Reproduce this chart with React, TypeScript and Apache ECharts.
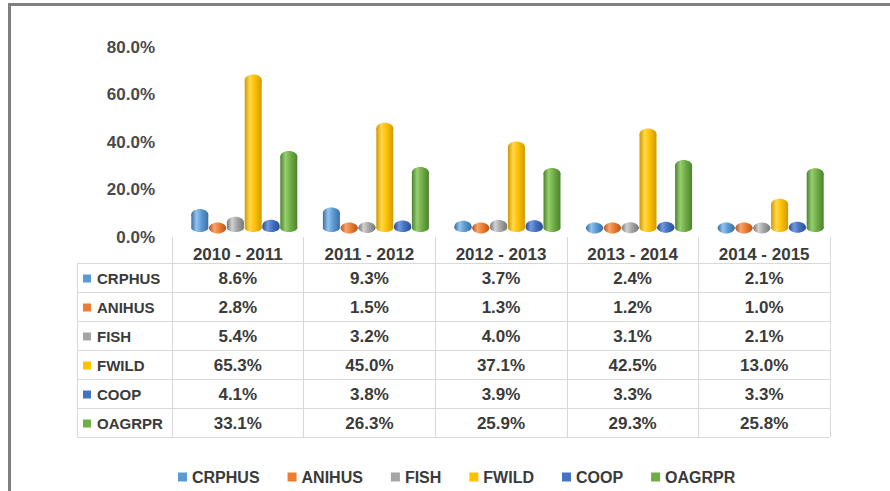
import React, { useEffect, useRef } from "react";
import * as echarts from "echarts";

const categories = ["2010 - 2011", "2011 - 2012", "2012 - 2013", "2013 - 2014", "2014 - 2015"];
const seriesNames = ["CRPHUS", "ANIHUS", "FISH", "FWILD", "COOP", "OAGRPR"];
const CRPHUS = [8.6, 9.3, 3.7, 2.4, 2.1];
const ANIHUS = [2.8, 1.5, 1.3, 1.2, 1.0];
const FISH = [5.4, 3.2, 4.0, 3.1, 2.1];
const FWILD = [65.3, 45.0, 37.1, 42.5, 13.0];
const COOP = [4.1, 3.8, 3.9, 3.3, 3.3];
const OAGRPR = [33.1, 26.3, 25.9, 29.3, 25.8];
const seriesValues = [CRPHUS, ANIHUS, FISH, FWILD, COOP, OAGRPR];
const yMin = 0;
const yMax = 80;
const yInterval = 20;

// styling
const palette = [
  { base: "#5B9BD5", light: "#93c3ee", dark: "#3b6fa0" },
  { base: "#ED7D31", light: "#f7a56e", dark: "#b5561b" },
  { base: "#A5A5A5", light: "#d2d2d2", dark: "#787878" },
  { base: "#FFC000", light: "#ffd84a", dark: "#cf9a00" },
  { base: "#4472C4", light: "#7199df", dark: "#2b4f90" },
  { base: "#70AD47", light: "#97cf6f", dark: "#4c832d" },
];
const FONT = "'Liberation Sans', Arial, sans-serif";
const TEXT = "#3a3a3a";
const GRID_LEFT = 172;
const GRID_RIGHT = 60;
const GRID_TOP = 47;
const GRID_BOTTOM = 254;
const SLOT = 17.8;
const BAR_W = 17;
const GROUP_SHIFT = 6.5;
const TABLE_TOP = 263;
const ROW_H = 29;
const TABLE_LEFT = 77;
const TABLE_RIGHT = 830;
const LINE = "#d9d9d9";

function grad(p: { base: string; light: string; dark: string }) {
  return new echarts.graphic.LinearGradient(0, 0, 1, 0, [
    { offset: 0, color: p.dark },
    { offset: 0.3, color: p.light },
    { offset: 0.6, color: p.base },
    { offset: 1, color: p.dark },
  ]);
}

export default function App() {
  const ref = useRef<HTMLDivElement>(null);
  useEffect(() => {
    if (!ref.current) return;
    const chart = echarts.init(ref.current, undefined, { renderer: "svg" });
    const option: any = {
      animation: false,
      backgroundColor: "#ffffff",
      grid: { left: GRID_LEFT, right: GRID_RIGHT, top: GRID_TOP, bottom: GRID_BOTTOM },
      legend: {
        data: seriesNames,
        left: 173,
        top: 464,
        icon: "rect",
        itemWidth: 9,
        itemHeight: 9,
        itemGap: 28,
        textStyle: { fontFamily: FONT, fontSize: 16, fontWeight: "bold", color: TEXT },
      },
      xAxis: {
        type: "category",
        data: categories,
        axisLine: { show: false },
        axisTick: { show: true, length: 200, lineStyle: { color: LINE, width: 1 } },
        axisLabel: { margin: 9, fontFamily: FONT, fontSize: 17, fontWeight: "bold", color: TEXT },
        splitLine: { show: false },
      },
      yAxis: {
        type: "value",
        min: yMin,
        max: yMax,
        interval: yInterval,
        axisLine: { show: false },
        axisTick: { show: false },
        splitLine: { show: false },
        axisLabel: {
          margin: 17,
          fontFamily: FONT,
          fontSize: 17,
          fontWeight: "bold",
          color: "#4a4a4a",
          formatter: (v: number) => v.toFixed(1) + "%",
        },
      },
      series: seriesNames.map((name, s) => ({
        name,
        type: "custom",
        itemStyle: { color: palette[s].base },
        encode: { x: 0, y: 1 },
        data: seriesValues[s].map((v, i) => [i, v]),
        renderItem: (params: any, api: any) => {
          const ci = api.value(0);
          const v = api.value(1);
          const p0 = api.coord([ci, 0]);
          const p1 = api.coord([ci, v]);
          const si = params.seriesIndex;
          const cx = p0[0] + GROUP_SHIFT + (si - 2.5) * SLOT;
          const rx = BAR_W / 2;
          const yBase = p0[1] - 9;
          const yTop = Math.min(p1[1] - 2, yBase);
          const pal = palette[si];
          return {
            type: "group",
            children: [
              {
                type: "rect",
                shape: { x: cx - rx, y: yTop, width: BAR_W, height: Math.max(0, yBase - yTop) },
                style: { fill: grad(pal) },
              },
              { type: "ellipse", shape: { cx, cy: yBase, rx, ry: 4 }, style: { fill: grad(pal) } },
              { type: "ellipse", shape: { cx, cy: yTop, rx, ry: 5.5 }, style: { fill: grad(pal) } },
            ],
          };
        },
      })),
    };
    chart.setOption(option);

    const graphics: any[] = [];
    // frame
    graphics.push({
      type: "line",
      shape: { x1: 8, y1: 4.5, x2: 890, y2: 4.5 },
      style: { stroke: "#808080", lineWidth: 3 },
    });
    graphics.push({
      type: "line",
      shape: { x1: 9.5, y1: 3, x2: 9.5, y2: 491 },
      style: { stroke: "#808080", lineWidth: 3 },
    });
    // table horizontal lines
    for (let r = 0; r <= seriesNames.length; r++) {
      const y = TABLE_TOP + r * ROW_H + 0.5;
      graphics.push({
        type: "line",
        shape: { x1: TABLE_LEFT, y1: y, x2: TABLE_RIGHT, y2: y },
        style: { stroke: LINE, lineWidth: 1 },
      });
    }
    graphics.push({
      type: "line",
      shape: { x1: TABLE_LEFT + 0.5, y1: TABLE_TOP, x2: TABLE_LEFT + 0.5, y2: TABLE_TOP + ROW_H * seriesNames.length },
      style: { stroke: LINE, lineWidth: 1 },
    });
    // row headers and values
    seriesNames.forEach((name, r) => {
      const cy = TABLE_TOP + r * ROW_H + ROW_H / 2 + 1;
      graphics.push({
        type: "rect",
        shape: { x: 83, y: cy - 4, width: 8, height: 8 },
        style: { fill: palette[r].base },
      });
      graphics.push({
        type: "text",
        x: 97,
        y: cy,
        style: {
          text: name,
          fontFamily: FONT,
          fontSize: 15,
          fontWeight: "bold",
          fill: TEXT,
          align: "left",
          verticalAlign: "middle",
        },
      });
      seriesValues[r].forEach((v, i) => {
        const x = chart.convertToPixel({ xAxisIndex: 0 }, categories[i]) as number;
        graphics.push({
          type: "text",
          x,
          y: cy,
          style: {
            text: v.toFixed(1) + "%",
            fontFamily: FONT,
            fontSize: 17,
            fontWeight: "bold",
            fill: TEXT,
            align: "center",
            verticalAlign: "middle",
          },
        });
      });
    });
    chart.setOption({ graphic: graphics });

    return () => chart.dispose();
  }, []);
  return (
    <div
      ref={ref}
      style={{ position: "absolute", left: 0, top: 0, width: 890, height: 491, background: "#fff" }}
    />
  );
}
